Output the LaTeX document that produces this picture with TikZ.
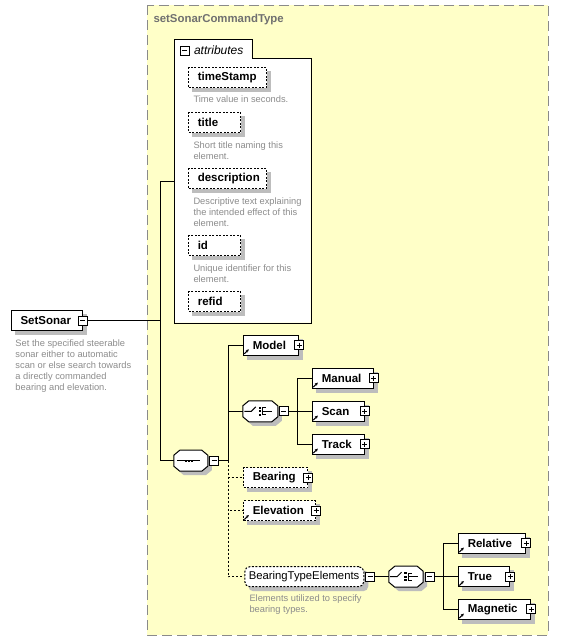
\documentclass[tikz,border=0pt]{standalone}
\usepackage{fontspec}
\setmainfont{Liberation Sans}
\usetikzlibrary{positioning,backgrounds,arrows.meta}
\definecolor{boxyellow}{HTML}{FFFFC8}
\definecolor{framegray}{HTML}{8A8A8A}
\definecolor{titlegray}{HTML}{707070}
\definecolor{descgray}{HTML}{8C8C8C}
\definecolor{shadowgray}{HTML}{BDBDBD}
\begin{document}
\begin{tikzpicture}[x=1pt,y=-1pt,line width=1pt,
	elem/.style={draw,fill=white,anchor=west,minimum height=20pt,inner xsep=9pt,inner ysep=0pt,align=left,
		font=\fontsize{11.5}{13}\selectfont\bfseries},
	opt/.style={elem,dash pattern=on 2pt off 1.5pt},
	comp/.style={minimum width=33pt,minimum height=20pt,inner sep=0pt},
	desc/.style={anchor=north west,align=left,inner sep=0pt,text=descgray,font=\fontsize{9.3}{10.8}\selectfont},
	minus/.style={draw,fill=white,minimum size=9pt,inner sep=0pt,line width=0.7pt,
		path picture={\draw[line width=0.7pt] ([xshift=2pt]path picture bounding box.west) -- ([xshift=-2pt]path picture bounding box.east);}},
	plus/.style={draw,fill=white,minimum size=9pt,inner sep=0pt,line width=0.7pt,
		path picture={\draw[line width=0.7pt] ([xshift=2pt]path picture bounding box.west) -- ([xshift=-2pt]path picture bounding box.east)
			([yshift=-2pt]path picture bounding box.north) -- ([yshift=2pt]path picture bounding box.south);}},
	refarr/.style={-{Stealth[length=3pt,width=3pt]},line width=1pt},
	optline/.style={dash pattern=on 2pt off 2pt},
	shadowshift/.style={shift={(4pt,-4pt)}}]
	\useasboundingbox (0,0) rectangle (567,641);
	\node[anchor=west,inner sep=0pt,text=titlegray,font=\fontsize{11.4}{13}\selectfont\bfseries] (typename) at (153,20) {setSonarCommandType};
	% attributes
	\node[minus] (attrbtn) at (184.5,50.5) {};
	\node[anchor=west,inner sep=0pt,font=\fontsize{12}{14}\selectfont\itshape] (attrlabel) at (193.5,50.5) {attributes};
	\node[opt,text width=59.7pt] (timestamp) at (188.3,77.7) {timeStamp};
	\node[opt,text width=33.7pt] (title) at (188.3,122.5) {title};
	\node[opt,text width=59.7pt] (description) at (188.3,178.5) {description};
	\node[opt,text width=33.7pt] (id) at (188.3,245.7) {id};
	\node[opt,text width=33.7pt] (refid) at (188.3,301.7) {refid};
	\node[desc] (timestampdesc) at (193,95.7) {Time value in seconds.};
	\node[desc] (titledesc) at (193,141.4) {Short title naming this\\element.};
	\node[desc] (descriptiondesc) at (193,197.4) {Descriptive text explaining\\the intended effect of this\\element.};
	\node[desc] (iddesc) at (193,264.1) {Unique identifier for this\\element.};
	% root element
	\node[elem,minimum height=20.7pt,text width=52.7pt] (setsonar) at (11,320.5) {SetSonar};
	\node[desc] (setsonardesc) at (15,339.7) {Set the specified steerable\\sonar either to automatic\\scan or else search towards\\a directly commanded\\bearing and elevation.};
	% content model
	\node[comp] (seq) at (190.8,460.7) {};
	\node[comp,minimum width=34pt] (ch1) at (260.3,411.3) {};
	\node[comp,minimum width=33.4pt] (ch2) at (406,576.7) {};
	\foreach \c in {seq,ch1,ch2}
		\draw[fill=white] ([xshift=6pt]\c.north west) -- ([xshift=-6pt]\c.north east) -- ([yshift=-5pt]\c.north east) -- ([yshift=5pt]\c.south east)
			-- ([xshift=-6pt]\c.south east) -- ([xshift=6pt]\c.south west) -- ([yshift=5pt]\c.south west) -- ([yshift=-5pt]\c.north west) -- cycle;
	\node[elem,text width=37pt] (model) at (243.3,345) {Model};
	\node[elem,text width=42.4pt] (manual) at (312.3,378.3) {Manual};
	\node[elem,text width=33.4pt] (scan) at (312.3,411.3) {Scan};
	\node[elem,text width=33.4pt] (track) at (312.3,444.3) {Track};
	\node[opt,text width=46pt] (bearing) at (243.3,477.5) {Bearing};
	\node[opt,text width=53.7pt] (elevation) at (243.3,510.7) {Elevation};
	\node[opt,rounded corners=5pt,inner xsep=4pt,text width=111pt,font=\fontsize{11.3}{13}\selectfont] (bte) at (244.3,576.7) {BearingTypeElements};
	\node[desc] (btedesc) at (249,594.7) {Elements utilized to specify\\bearing types.};
	\node[elem,text width=48.7pt] (relative) at (458.3,543.3) {Relative};
	\node[elem,text width=33pt] (trueb) at (458.3,576.7) {True};
	\node[elem,text width=53.7pt] (magnetic) at (458.3,609.3) {Magnetic};
	% compositor icons
	\draw ([xshift=3pt]seq.west) -- ([xshift=-8pt]seq.east);
	\foreach \d in {-5,-2,1} \fill ([xshift=\d pt]seq.center) +(-1.2pt,-1.2pt) rectangle +(1.2pt,1.2pt);
	\foreach \c in {ch1,ch2} {
		\draw ([xshift=-16pt]\c.center) -- ([xshift=-9pt]\c.center) -- ([xshift=-4.5pt,yshift=4.5pt]\c.center);
		\foreach \d in {-3.5,0,3.5} \fill ([xshift=-0.5pt,yshift=\d pt]\c.center) +(-1.1pt,-1.1pt) rectangle +(1.1pt,1.1pt);
		\draw ([xshift=5.5pt,yshift=3.5pt]\c.center) -- ([xshift=2.5pt,yshift=3.5pt]\c.center) -- ([xshift=2.5pt,yshift=-3.5pt]\c.center) -- ([xshift=5.5pt,yshift=-3.5pt]\c.center)
			([xshift=2.5pt]\c.center) -- ([xshift=12pt]\c.center);
	}
	% buttons
	\node[minus] (setsonarbtn) at (setsonar.east) {};
	\node[minus,right=1.5pt of seq] (seqbtn) {};
	\node[minus,right=1pt of ch1] (ch1btn) {};
	\node[minus,right=1pt of bte] (btebtn) {};
	\node[minus,right=1.5pt of ch2] (ch2btn) {};
	\foreach \n in {model,manual,scan,track,bearing,elevation,relative,trueb,magnetic} \node[plus] (\n-btn) at (\n.east) {};
	\foreach \n in {model,manual,scan,track,elevation,relative,trueb,magnetic} \draw[refarr] ([xshift=1pt,yshift=1.7pt]\n.south west) -- ++(4.5pt,4.5pt);
	% connectors
	\coordinate (attrin) at (174.3,181.7);
	\coordinate (j1) at (160,320.5);
	\coordinate (j2) at (228.3,460.7);
	\coordinate (j3) at (297.3,411.3);
	\coordinate (j4) at (443.3,576.7);
	\draw (setsonarbtn.east) -- (j1) |- (attrin);
	\draw (j1) |- (seq.west);
	\draw (seqbtn.east) -- (j2);
	\draw (j2) |- (model.west) (j2) |- (ch1.west);
	\draw[optline] (j2) |- (bearing.west) (j2) |- (elevation.west) (j2) |- (bte.west);
	\draw (ch1btn.east) -- (j3);
	\draw (j3) |- (manual.west) (j3) |- (scan.west) (j3) |- (track.west);
	\draw (btebtn.east) -- (ch2.west);
	\draw (ch2btn.east) -- (j4);
	\draw (j4) |- (relative.west) (j4) |- (trueb.west) (j4) |- (magnetic.west);
	% frame, attribute box and shadows
	\begin{scope}[on background layer]
		\draw[framegray,dash pattern=on 10pt off 5pt,fill=boxyellow] (147,5) rectangle (548,635);
		\draw[fill=white] (174.3,39.3) -- (251.7,39.3) -- (251.7,58.3) -- (310.7,58.3) -- (310.7,322.7) -- (174.3,322.7) -- cycle;
		\foreach \n in {setsonar,timestamp,title,description,id,refid,model,manual,scan,track,bearing,elevation,relative,trueb,magnetic}
			\fill[shadowgray] ([shadowshift]\n.north west) rectangle ([shadowshift]\n.south east);
		\fill[shadowgray,rounded corners=5pt] ([shadowshift]bte.north west) rectangle ([shadowshift]bte.south east);
		\foreach \c in {seq,ch1,ch2}
			\fill[shadowgray] ([shadowshift,xshift=6pt]\c.north west) -- ([shadowshift,xshift=-6pt]\c.north east) -- ([shadowshift,yshift=-5pt]\c.north east) -- ([shadowshift,yshift=5pt]\c.south east)
				-- ([shadowshift,xshift=-6pt]\c.south east) -- ([shadowshift,xshift=6pt]\c.south west) -- ([shadowshift,yshift=5pt]\c.south west) -- ([shadowshift,yshift=-5pt]\c.north west) -- cycle;
	\end{scope}
\end{tikzpicture}
\end{document}
